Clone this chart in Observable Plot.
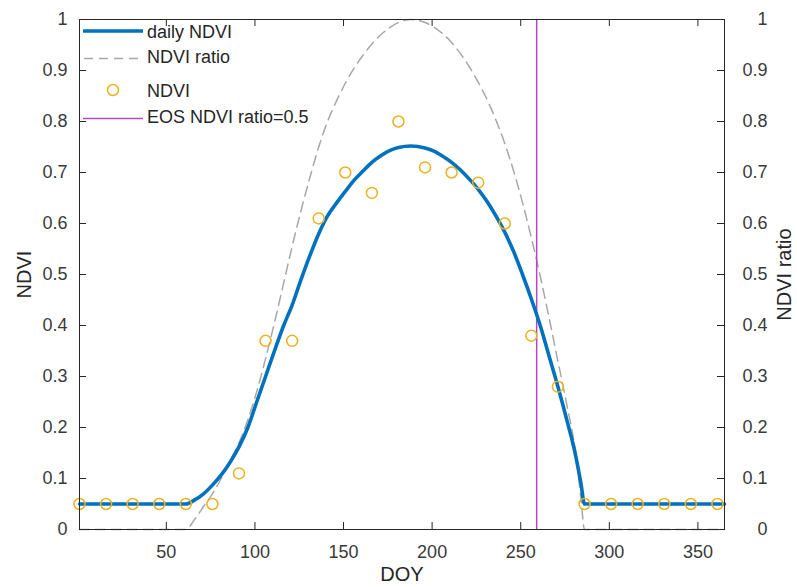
<!DOCTYPE html>
<html>
<head>
<meta charset="utf-8">
<script src="https://cdn.jsdelivr.net/npm/d3@7"></script>
<script src="https://cdn.jsdelivr.net/npm/@observablehq/plot@0.6"></script>
<style>
  html, body { margin: 0; padding: 0; background: #fff; }
  #wrap { position: relative; width: 797px; height: 587px; overflow: hidden; }
  #legend { position: absolute; left: 0; top: 0; pointer-events: none; }
</style>
</head>
<body>
<div id="wrap"></div>
<script>
// ---- data ----
const ndviDays = [1,16,31,46,61,76,91,106,121,136,151,166,181,196,211,226,241,256,271,286,301,316,331,346,361];
const ndviValues = [0.05,0.05,0.05,0.05,0.05,0.05,0.11,0.37,0.37,0.61,0.70,0.66,0.80,0.71,0.70,0.68,0.60,0.38,0.28,0.05,0.05,0.05,0.05,0.05,0.05];

const dailyDays = [1,61,66,71,76,81,86,91,96,101,106,111,116,121,126,131,136,141,146,151,156,161,166,171,176,181,188,196,201,206,211,216,221,226,231,236,241,246,251,256,261,266,271,276,281,284,286,365];
const dailyNdvi = [0.05,0.05,0.058,0.07,0.087,0.107,0.132,0.162,0.20,0.25,0.30,0.35,0.398,0.44,0.49,0.537,0.58,0.615,0.64,0.663,0.685,0.703,0.72,0.733,0.743,0.749,0.752,0.748,0.742,0.732,0.72,0.705,0.687,0.667,0.643,0.615,0.583,0.545,0.50,0.452,0.40,0.34,0.28,0.215,0.145,0.09,0.05,0.05];
const ratioValues = [0,0,0.02,0.045,0.07,0.10,0.135,0.17,0.215,0.27,0.335,0.405,0.48,0.555,0.625,0.69,0.75,0.80,0.84,0.875,0.905,0.93,0.952,0.97,0.984,0.994,1.0,0.994,0.985,0.972,0.955,0.933,0.907,0.877,0.843,0.803,0.757,0.703,0.641,0.572,0.497,0.415,0.33,0.245,0.15,0.06,0,0];

const eosDay = [259];
const xTicks = [50,100,150,200,250,300,350];
const yTicks = [0,0.1,0.2,0.3,0.4,0.5,0.6,0.7,0.8,0.9,1];
const legendLabels = ["daily NDVI","NDVI ratio","NDVI","EOS NDVI ratio=0.5"];
const axisLabels = {y: "NDVI", y2: "NDVI ratio", x: "DOY"};

const obs = ndviDays.map((d,i) => ({day: d, v: ndviValues[i]}));
const daily = dailyDays.map((d,i) => ({day: d, v: dailyNdvi[i]}));
const ratio = dailyDays.map((d,i) => ({day: d, v: ratioValues[i]}));

const BLUE = "#0072BD", ORANGE = "#EDB120", GRAY = "#a8a8a8", PURPLE = "#b347c4";
const AXIS = "#262626", TXT = "#3a3a3a";
const fmt = d => String(+d.toFixed(1));

const W = 797, H = 587, ML = 79, MR = 73, MT = 19, MB = 58;
const TICK = 7;
const frameW = W - ML - MR, frameH = H - MT - MB;

const chart = Plot.plot({
  width: W, height: H,
  marginLeft: ML, marginRight: MR, marginTop: MT, marginBottom: MB,
  x: {domain: [1, 365]},
  y: {domain: [0, 1]},
  style: {fontFamily: "'Liberation Sans', Arial, sans-serif", fontSize: "18px", background: "white", color: TXT},
  marks: [
    Plot.line(ratio, {x: "day", y: "v", stroke: GRAY, strokeWidth: 1.5, strokeDasharray: "10,6", curve: "monotone-x"}),
    Plot.ruleX(eosDay, {stroke: PURPLE, strokeWidth: 1.5}),
    Plot.line(daily, {x: "day", y: "v", stroke: BLUE, strokeWidth: 3.6, curve: "monotone-x"}),
    Plot.dot(obs, {x: "day", y: "v", r: 5.5, stroke: ORANGE, strokeWidth: 1.5, fill: "none"}),
    Plot.frame({stroke: AXIS}),
    // inward tick marks (MATLAB style)
    Plot.tickX(xTicks, {x: d => d, stroke: AXIS, insetTop: frameH - TICK}),
    Plot.tickX(xTicks, {x: d => d, stroke: AXIS, insetBottom: frameH - TICK}),
    Plot.tickY(yTicks, {y: d => d, stroke: AXIS, insetRight: frameW - TICK}),
    Plot.tickY(yTicks, {y: d => d, stroke: AXIS, insetLeft: frameW - TICK}),
    // tick labels
    Plot.axisX(xTicks, {anchor: "bottom", tickSize: 0, tickPadding: 16, label: null, fill: TXT}),
    Plot.axisY(yTicks, {anchor: "left", tickSize: 0, tickPadding: 12, tickFormat: fmt, label: null, fill: TXT}),
    Plot.axisY(yTicks, {anchor: "right", tickSize: 0, tickPadding: 43, textAnchor: "end", tickFormat: fmt, label: null, fill: TXT}),
    // axis titles
    Plot.text([axisLabels.y], {text: d => d, frameAnchor: "left", textAnchor: "middle", lineAnchor: "middle", dx: -55, rotate: -90, fontSize: 20, fill: AXIS}),
    Plot.text([axisLabels.y2], {text: d => d, frameAnchor: "right", textAnchor: "middle", lineAnchor: "middle", dx: 60, rotate: -90, fontSize: 20, fill: AXIS}),
    Plot.text([axisLabels.x], {text: d => d, frameAnchor: "bottom", textAnchor: "middle", lineAnchor: "middle", dy: 45, fontSize: 20, fill: AXIS})
  ]
});

const wrap = document.getElementById("wrap");
wrap.appendChild(chart);

// legend overlay (no box, MATLAB style)
const ns = "http://www.w3.org/2000/svg";
const lg = document.createElementNS(ns, "svg");
lg.setAttribute("id", "legend");
lg.setAttribute("width", W);
lg.setAttribute("height", 140);
const rows = [31, 58.5, 90, 118.5];
const swatches = [
  `<line x1="83" x2="143" y1="${rows[0]}" y2="${rows[0]}" stroke="${BLUE}" stroke-width="3.6"/>`,
  `<line x1="84" x2="143" y1="${rows[1]}" y2="${rows[1]}" stroke="${GRAY}" stroke-width="1.5" stroke-dasharray="9,6"/>`,
  `<circle cx="113" cy="${rows[2]}" r="5.5" fill="none" stroke="${ORANGE}" stroke-width="1.5"/>`,
  `<line x1="83" x2="143" y1="${rows[3]}" y2="${rows[3]}" stroke="${PURPLE}" stroke-width="1.5"/>`
];
const textY = [32, 57, 91, 117];
let html = swatches.join("");
legendLabels.forEach((t, i) => {
  html += `<text x="147" y="${textY[i]}" dy="0.35em" fill="${AXIS}" font-family="'Liberation Sans', Arial, sans-serif" font-size="18">${t}</text>`;
});
lg.innerHTML = html;
wrap.appendChild(lg);
</script>
</body>
</html>
